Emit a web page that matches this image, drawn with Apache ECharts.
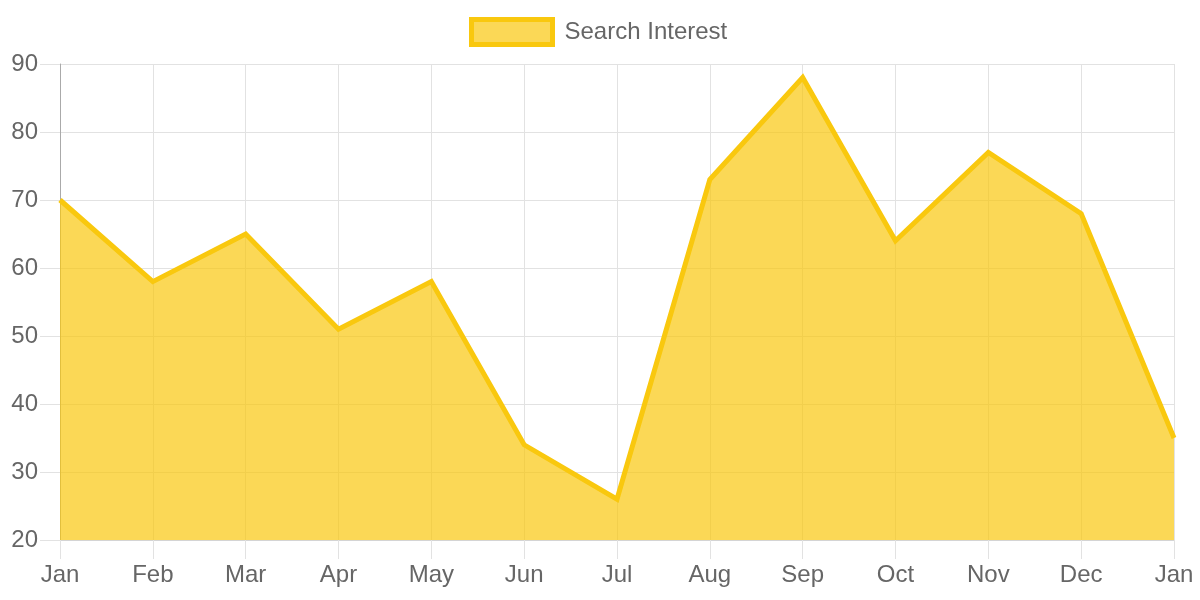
<!DOCTYPE html>
<html>
<head>
<meta charset="utf-8">
<script src="https://cdn.jsdelivr.net/npm/echarts@6/dist/echarts.min.js"></script>
<style>html,body{margin:0;padding:0;background:#fff}#c{width:1200px;height:600px}</style>
</head>
<body>
<div id="c"></div>
<script>
const categories = ['Jan','Feb','Mar','Apr','May','Jun','Jul','Aug','Sep','Oct','Nov','Dec','Jan'];
const seriesName = 'Search Interest';
const values = [70, 58, 65, 51, 58, 34, 26, 73, 88, 64, 77, 68, 35];
const yTicks = [20, 30, 40, 50, 60, 70, 80, 90];

const lineColor = 'rgb(249,200,14)';
const fillColor = 'rgba(249,200,14,0.7)';
const font = 'Liberation Sans, Arial, sans-serif';
const chart = echarts.init(document.getElementById('c'));
chart.setOption({
  animation: false,
  textStyle: { fontFamily: font },
  legend: {
    top: 12,
    left: 464,
    icon: 'rect',
    itemWidth: 81,
    itemHeight: 25,
    itemGap: 10,
    textStyle: { color: '#666', fontSize: 24, fontFamily: font, padding: [0, 0, 0, 7] },
    itemStyle: { color: fillColor, borderColor: lineColor, borderWidth: 5 },
    lineStyle: { width: 0, opacity: 0 },
    data: [seriesName]
  },
  grid: { left: 60, right: 26, top: 64, bottom: 60, containLabel: false },
  xAxis: {
    type: 'category',
    data: categories,
    boundaryGap: false,
    axisLine: { show: true, lineStyle: { color: '#d4d4d4', width: 1 } },
    axisTick: { show: true, length: 19, interval: 0, lineStyle: { color: '#e2e2e2' } },
    axisLabel: { color: '#666', fontSize: 24, margin: 23, interval: 0, fontFamily: font },
    splitLine: { show: true, interval: 0, lineStyle: { color: '#e2e2e2' } }
  },
  yAxis: {
    type: 'value',
    min: yTicks[0],
    max: yTicks[yTicks.length - 1],
    interval: 10,
    axisLine: { show: true, lineStyle: { color: '#aaa', width: 1 } },
    axisTick: { show: true, length: 20, lineStyle: { color: '#e2e2e2' } },
    axisLabel: { color: '#666', fontSize: 24, margin: 22, fontFamily: font },
    splitLine: { show: true, lineStyle: { color: '#e2e2e2' } }
  },
  series: [{
    name: seriesName,
    type: 'line',
    data: values,
    symbol: 'none',
    showSymbol: false,
    lineStyle: { color: lineColor, width: 5, join: 'miter' },
    itemStyle: { color: fillColor, borderColor: lineColor, borderWidth: 5 },
    areaStyle: { color: fillColor, opacity: 1, origin: 'start' }
  }]
});
</script>
</body>
</html>
